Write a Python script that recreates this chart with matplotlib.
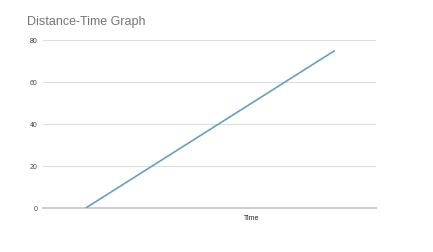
import matplotlib
matplotlib.use("Agg")
import matplotlib.pyplot as plt

time = [0, 1]
distance = [0, 75]
yticks = [0, 20, 40, 60, 80]

plt.rcParams['font.family'] = ['Liberation Sans', 'DejaVu Sans']
fig = plt.figure(figsize=(4.33, 2.53), dpi=100)
ax = fig.add_axes([0.0993, 0.174, 0.769, 0.664])
ax.plot(time, distance, color='#6b9fb8', lw=1.2, solid_capstyle='butt')
ax.set_xlim(-0.172, 1.165)
ax.set_ylim(0, 80)
ax.set_yticks(yticks)
ax.set_yticklabels([str(v) for v in yticks], fontsize=5, color='#444444')
ax.set_xticks([])
for s in ax.spines.values():
    s.set_visible(False)
ax.tick_params(axis='y', length=0, pad=4)
for v in yticks[1:]:
    ax.axhline(v, color='#dddddd', lw=0.8, zorder=0)
ax.axhline(0, color='#cccccc', lw=1.4, zorder=0, clip_on=False)
ax.text(0.625, -0.035, 'Time', transform=ax.transAxes, ha='center', va='top', fontsize=5, color='#222222')
fig.text(27/433, 1 - 22/253, 'Distance-Time Graph', ha='left', va='center', fontsize=9, color='#757575')
fig.savefig('out.png', dpi=100)
